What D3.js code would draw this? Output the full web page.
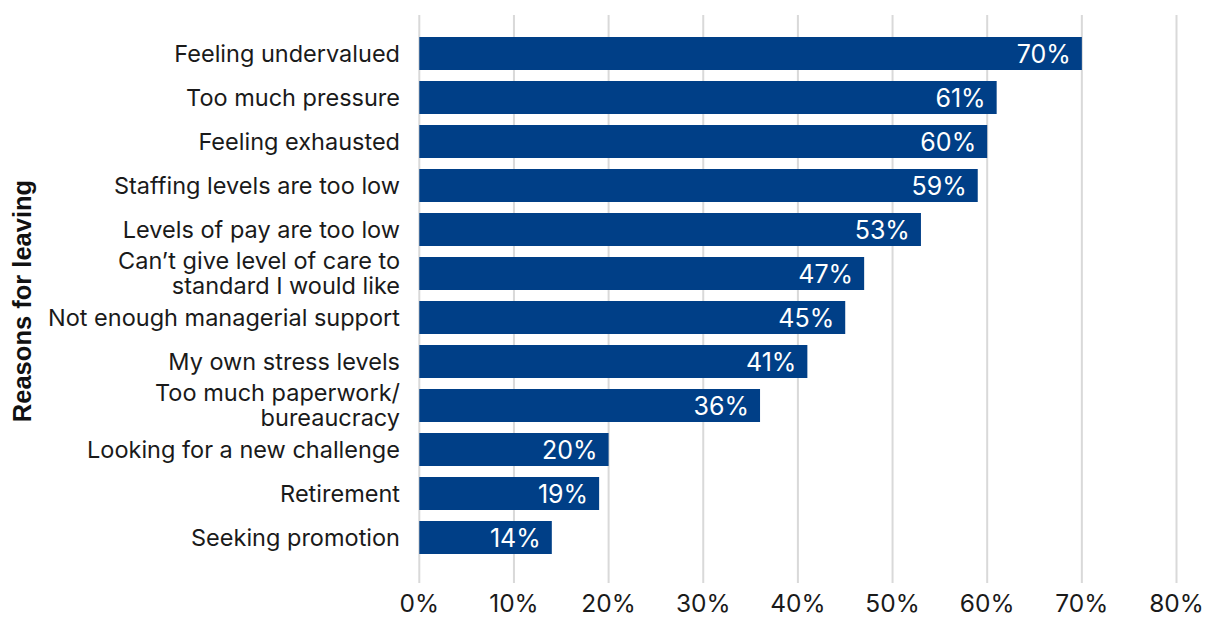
<!DOCTYPE html>
<html>
<head>
<meta charset="utf-8">
<script src="https://cdn.jsdelivr.net/npm/d3@7"></script>
<style>
  html, body { margin: 0; padding: 0; background: #ffffff; }
  svg { display: block; }
</style>
</head>
<body>
<svg id="chart" width="1215" height="618"></svg>
<script>
const categories = [
  "Feeling undervalued",
  "Too much pressure",
  "Feeling exhausted",
  "Staffing levels are too low",
  "Levels of pay are too low",
  "Can\u2019t give level of care to|standard I would like",
  "Not enough managerial support",
  "My own stress levels",
  "Too much paperwork/|bureaucracy",
  "Looking for a new challenge",
  "Retirement",
  "Seeking promotion"
];
const values = [70, 61, 60, 59, 53, 47, 45, 41, 36, 20, 19, 14];
const tickValues = [0, 10, 20, 30, 40, 50, 60, 70, 80];
const axisTitle = "Reasons for leaving";

const svg = d3.select("#chart");
const x = d3.scaleLinear().domain([0, 80]).range([419.3, 1176.5]);
const y = d3.scaleBand().domain(categories).range([31.5, 559.5])
  .paddingInner(0.25).paddingOuter(0.125);

const labelFont = "Inter, 'Noto Sans', sans-serif";

// gridlines
svg.append("g").selectAll("line").data(tickValues).join("line")
  .attr("x1", d => x(d)).attr("x2", d => x(d))
  .attr("y1", 15).attr("y2", 583)
  .attr("stroke", "#d9d9d9").attr("stroke-width", 2);

// x tick labels
svg.append("g").selectAll("text").data(tickValues).join("text")
  .attr("x", d => x(d)).attr("y", 611.5)
  .attr("text-anchor", "middle")
  .attr("font-family", labelFont).attr("font-size", 24.5)
  .attr("fill", "#1a1a1a")
  .text(d => d + "%");

// bars
svg.append("g").selectAll("rect").data(categories).join("rect")
  .attr("x", x(0))
  .attr("y", d => y(d))
  .attr("width", (d, i) => x(values[i]) - x(0))
  .attr("height", y.bandwidth())
  .attr("fill", "#003f87");

// value labels
svg.append("g").selectAll("text").data(categories).join("text")
  .attr("x", (d, i) => x(values[i]) - 11)
  .attr("y", d => y(d) + y.bandwidth() / 2 + 9)
  .attr("text-anchor", "end")
  .attr("font-family", labelFont).attr("font-size", 25)
  .attr("fill", "#ffffff")
  .text((d, i) => values[i] + "%");

// category labels
const catG = svg.append("g");
categories.forEach(c => {
  const lines = c.split("|");
  const cy = y(c) + y.bandwidth() / 2;
  const lh = 25;
  const t = catG.append("text")
    .attr("text-anchor", "end")
    .attr("font-family", labelFont).attr("font-size", 23.5)
    .attr("fill", "#1a1a1a");
  lines.forEach((ln, k) => {
    t.append("tspan")
      .attr("x", 400)
      .attr("y", cy + 8 + (k - (lines.length - 1) / 2) * lh)
      .text(ln);
  });
});

// axis title
svg.append("text")
  .attr("transform", "translate(31,301) rotate(-90)")
  .attr("text-anchor", "middle")
  .attr("font-family", "'Liberation Sans', Arial, sans-serif")
  .attr("font-weight", "bold").attr("font-size", 25.5)
  .attr("fill", "#111111")
  .text(axisTitle);
</script>
</body>
</html>
